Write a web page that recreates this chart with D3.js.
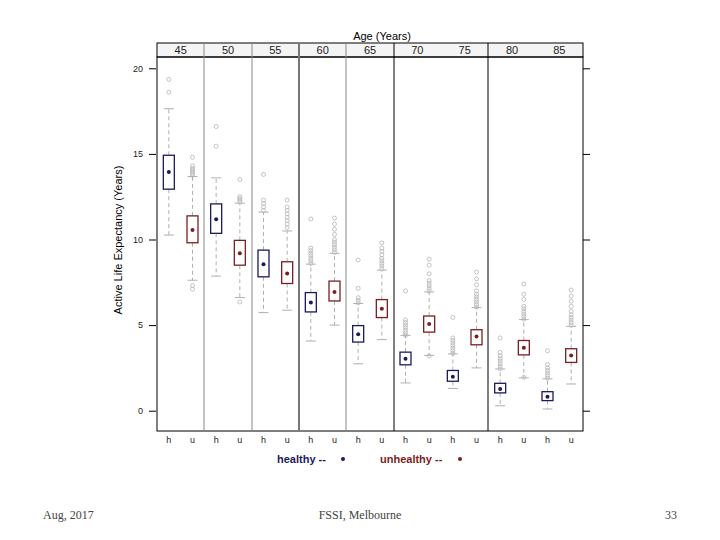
<!DOCTYPE html>
<html><head><meta charset="utf-8">
<script src="https://cdn.jsdelivr.net/npm/d3@7"></script>
<style>body{margin:0;background:#fff}svg{display:block}</style>
</head><body>
<script>
const ages = ["45","50","55","60","65","70","75","80","85"];
const groups = ["h","u"];
const groupNames = ["healthy","unhealthy"];
// [lower whisker, Q1, median, Q3, upper whisker]
const healthyStats = [
  [10.26,12.94,13.94,14.92,17.64],
  [7.86,10.36,11.18,12.08,13.6],
  [5.73,7.82,8.56,9.38,11.6],
  [4.07,5.77,6.32,6.90,8.56],
  [2.74,4.01,4.46,4.97,6.26],
  [1.62,2.68,3.03,3.42,4.40],
  [1.30,1.72,1.99,2.35,3.32],
  [0.29,1.04,1.27,1.60,2.44],
  [0.10,0.59,0.82,1.11,1.86]
];
const unhealthyStats = [
  [7.62,9.81,10.56,11.38,13.68],
  [6.61,8.50,9.19,9.95,12.12],
  [5.87,7.43,8.02,8.70,10.5],
  [5.00,6.41,6.94,7.57,9.19],
  [4.15,5.44,5.96,6.49,8.21],
  [3.23,4.59,5.06,5.53,6.94],
  [2.50,3.85,4.34,4.73,6.02],
  [1.92,3.26,3.68,4.10,5.32],
  [1.56,2.82,3.23,3.62,4.93]
];
const healthyOutliers = [
  [18.6,19.35],
  [15.45,16.6],
  [11.7,11.9,12.1,12.3,13.8],
  [8.6,8.75,8.9,9.05,9.2,9.35,9.5,11.2],
  [6.3,6.45,6.6,7.15,8.8],
  [4.4,4.55,4.7,4.85,5.0,5.15,5.3,7.0],
  [3.35,3.5,3.65,3.8,3.95,4.1,4.25,5.45],
  [2.45,2.6,2.75,2.9,3.05,3.2,3.4,4.25],
  [1.9,2.05,2.2,2.35,2.5,2.7,3.5]
];
const unhealthyOutliers = [
  [7.1,7.3,13.75,13.85,13.95,14.05,14.15,14.3,14.8],
  [6.35,12.2,12.3,12.4,12.5,13.5],
  [10.7,10.9,11.1,11.3,11.5,11.7,11.9,12.3],
  [9.25,9.4,9.55,9.7,9.85,10.0,10.3,10.6,10.9,11.25],
  [8.3,8.45,8.6,8.75,8.9,9.1,9.3,9.5,9.8],
  [3.2,7.0,7.15,7.3,7.45,7.6,8.0,8.5,8.85],
  [6.05,6.2,6.35,6.5,6.65,6.8,7.0,7.35,7.7,8.1],
  [1.95,5.35,5.5,5.65,5.8,5.95,6.1,6.5,6.8,7.4],
  [5.0,5.15,5.3,5.45,5.6,5.8,6.1,6.4,6.7,7.05]
];
const yTicks = [0,5,10,15,20];
// strip cells: ages grouped as drawn in the panel strip
const stripCells = [["45"],["50"],["55"],["60"],["65"],["70","75"],["80","85"]];
const colors = {h:"#1c1a5c", u:"#7a1f1f"};

(function(){
const W=720,H=540;
const svg=d3.select("body").append("svg").attr("width",W).attr("height",H);
const pL=157,pR=583,pT=57,pB=431;
const font="Liberation Sans, Arial, sans-serif";

const keys=[];ages.forEach(a=>groups.forEach(g=>keys.push(a+g)));
const x=d3.scaleBand().domain(keys).range([pL,pR]);
const y=d3.scaleLinear().domain([0,20]).range([410.7,68.3]);
const bw=11;

// strip
const stripTop=43;
svg.append("rect").attr("x",pL).attr("y",stripTop).attr("width",pR-pL).attr("height",pT-stripTop)
  .attr("fill","#f4f4f4").attr("stroke","#000").attr("stroke-width",1);
svg.append("text").attr("x",382).attr("y",40).attr("text-anchor","middle")
  .attr("font-family",font).attr("font-size",11).text("Age (Years)");
ages.forEach(a=>{
  const cx=x(a+"h")+x.bandwidth();
  svg.append("text").attr("x",cx).attr("y",54).attr("text-anchor","middle")
    .attr("font-family",font).attr("font-size",11).attr("fill","#222").text(a);
});

// panel frame
svg.append("rect").attr("x",pL).attr("y",pT).attr("width",pR-pL).attr("height",pB-pT)
  .attr("fill","none").attr("stroke","#000").attr("stroke-width",1);

// separators
const sepStyles=[{c:"#8a8a8a",w:1},{c:"#8a8a8a",w:1},{c:"#777",w:2},{c:"#8a8a8a",w:1},{c:"#000",w:1},{c:"#000",w:1}];
stripCells.slice(0,-1).forEach((cell,i)=>{
  const lastAge=cell[cell.length-1];
  const sx=Math.round(x(lastAge+"u")+x.bandwidth());
  svg.append("line").attr("x1",sx).attr("x2",sx).attr("y1",stripTop).attr("y2",pB)
    .attr("stroke",sepStyles[i].c).attr("stroke-width",sepStyles[i].w);
});

// y axes
const yAxisL=d3.axisLeft(y).tickValues(yTicks).tickSize(7).tickPadding(6);
const gL=svg.append("g").attr("transform",`translate(${pL-1},0)`).call(yAxisL);
gL.select(".domain").remove();
gL.selectAll("text").attr("font-family",font).attr("font-size",9).attr("fill","#222");
const yAxisR=d3.axisRight(y).tickValues(yTicks).tickSize(7).tickFormat("");
const gR=svg.append("g").attr("transform",`translate(${pR},0)`).call(yAxisR);
gR.select(".domain").remove();

svg.append("text").attr("transform",`translate(122,240) rotate(-90)`).attr("text-anchor","middle")
  .attr("font-family",font).attr("font-size",11).text("Active Life Expectancy (Years)");

// x labels
keys.forEach(k=>{
  svg.append("text").attr("x",x(k)+x.bandwidth()/2).attr("y",443).attr("text-anchor","middle")
    .attr("font-family",font).attr("font-size",9).attr("fill","#222").text(k.slice(-1));
});

// boxes
const statsBy={h:healthyStats,u:unhealthyStats};
const outBy={h:healthyOutliers,u:unhealthyOutliers};
ages.forEach((a,i)=>{
  groups.forEach(g=>{
    const s=statsBy[g][i];
    const cx=x(a+g)+x.bandwidth()/2;
    const gg=svg.append("g");
    gg.append("line").attr("x1",cx).attr("x2",cx).attr("y1",y(s[3])).attr("y2",y(s[4]))
      .attr("stroke","#b0b0b0").attr("stroke-dasharray","4,3");
    gg.append("line").attr("x1",cx).attr("x2",cx).attr("y1",y(s[1])).attr("y2",y(s[0]))
      .attr("stroke","#b0b0b0").attr("stroke-dasharray","4,3");
    [s[0],s[4]].forEach(v=>{
      gg.append("line").attr("x1",cx-5).attr("x2",cx+5).attr("y1",y(v)).attr("y2",y(v))
        .attr("stroke","#b0b0b0");
    });
    outBy[g][i].forEach(v=>{
      gg.append("circle").attr("cx",cx).attr("cy",y(v)).attr("r",2)
        .attr("fill","none").attr("stroke","#b5b5b5").attr("stroke-width",0.8);
    });
    gg.append("rect").attr("x",cx-bw/2).attr("y",y(s[3])).attr("width",bw).attr("height",y(s[1])-y(s[3]))
      .attr("fill","none").attr("stroke",colors[g]).attr("stroke-width",1.3);
    gg.append("circle").attr("cx",cx).attr("cy",y(s[2])).attr("r",2).attr("fill",colors[g]);
  });
});

// legend
const leg=[{g:"h",x:277,dot:343},{g:"u",x:380,dot:460}];
leg.forEach((l,i)=>{
  svg.append("text").attr("x",l.x).attr("y",463).attr("font-family",font).attr("font-size",11)
    .attr("font-weight","bold").attr("fill",colors[l.g]).text(groupNames[i]+" --");
  svg.append("circle").attr("cx",l.dot).attr("cy",459).attr("r",2).attr("fill",colors[l.g]);
});

// footer
const serif="Liberation Serif, Times New Roman, serif";
svg.append("text").attr("x",43).attr("y",519).attr("font-family",serif).attr("font-size",12).attr("fill","#444").text("Aug, 2017");
svg.append("text").attr("x",360).attr("y",519).attr("text-anchor","middle").attr("font-family",serif).attr("font-size",12).attr("fill","#444").text("FSSI, Melbourne");
svg.append("text").attr("x",677).attr("y",519).attr("text-anchor","end").attr("font-family",serif).attr("font-size",12).attr("fill","#444").text("33");
})();
</script>
</body></html>
